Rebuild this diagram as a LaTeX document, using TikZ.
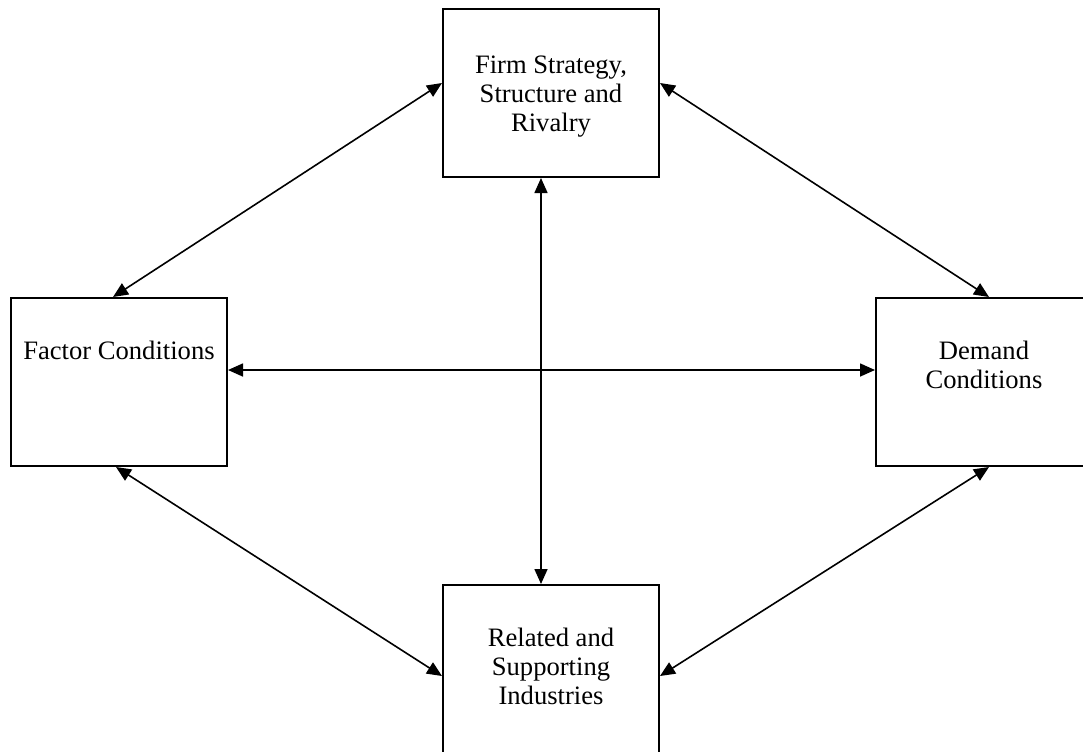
\documentclass[tikz,border=0pt]{standalone}
\usepackage{fontspec}
\setmainfont{Liberation Serif}
\usetikzlibrary{arrows.meta,positioning}
\newcommand{\boxlines}[2][30.5pt]{\parbox[c][84pt][t]{108pt}{\centering\rule{0pt}{#1}#2}}
\tikzset{
    %Define standard arrow tip
    >={Triangle[length=7.5pt,width=6.5pt]},
    %Define style for boxes
    factor/.style={
   	rectangle,
   	draw=black, line width=1pt,
   	inner sep=0pt,
   	anchor=north west,
   	font=\fontsize{13.3}{14.5}\selectfont
   },
    % Define arrow style
    link/.style={
           <->,
           line width=0.8pt}
}
\begin{document}
\begin{tikzpicture}[x=0.5pt,y=-0.5pt]
		\clip (0,0) rectangle (1083,751);
		%nodes
		\node[factor] (fs) at (442,8) {\boxlines[32pt]{Firm Strategy,\\ Structure and\\ Rivalry}};
		\node[factor] (fc) at (10,297) {\boxlines{Factor Conditions}};
		\node[factor] (dc) at (875,297) {\boxlines{Demand\\ Conditions}};
		\node[factor] (rs) at (442,584) {\boxlines{Related and\\ Supporting\\ Industries}};
		%links
		\draw[link] ([yshift=5pt]fs.west) -- ([xshift=-3pt]fc.north);
		\draw[link] ([yshift=5pt]fs.east) -- ([xshift=2.5pt]dc.north);
		\draw[link] ([xshift=-5pt]fs.south) -- ([xshift=-5pt]rs.north);
		\draw[link] ([yshift=6pt]fc.east) -- ([yshift=6pt]dc.west);
		\draw[link] ([xshift=-1.5pt]fc.south) -- ([yshift=-3.5pt]rs.west);
		\draw[link] ([xshift=2.5pt]dc.south) -- ([yshift=-3.5pt]rs.east);
\end{tikzpicture}
\end{document}
